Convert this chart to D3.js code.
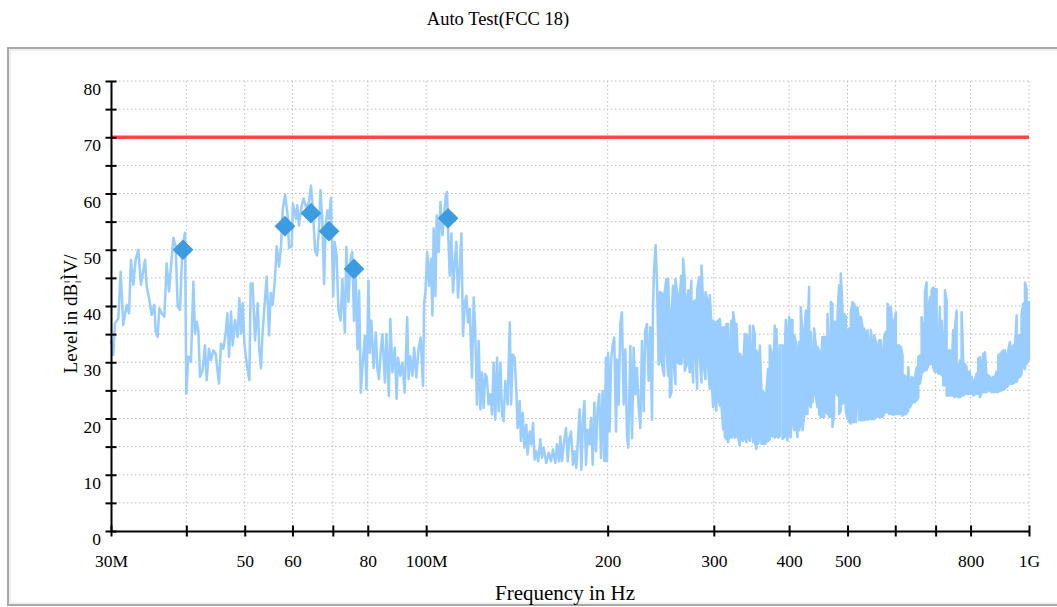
<!DOCTYPE html>
<html lang="en">
<head>
<meta charset="UTF-8">
<title>Auto Test(FCC 18)</title>
<script src="https://d3js.org/d3.v7.min.js"></script>
<style>
 body {
   margin: 0;
   background: #fff;
 }
 svg text {
   font-family: "Liberation Serif", "Times New Roman", serif;
   fill: #000;
 }
 .grid line {
   stroke: #bdbdbd;
   stroke-width: 1;
   stroke-dasharray: 1.5,2.5;
 }
 .trace {
   fill: none;
   stroke: #99ccff;
   stroke-width: 2.5;
   stroke-linejoin: round;
 }
</style>
</head>
<body>
<div id="chart"></div>
<script>
// scan trace, 30 MHz .. ~243 MHz (single readings, MHz / dBuV)
const lowF = [
  30.0, 30.27, 30.46, 30.85, 31.13, 31.44, 31.85, 32.14, 32.38, 32.67, 32.96, 33.30, 33.64, 34.16,
  34.38, 34.73, 35.04, 35.40, 35.58, 35.85, 36.08, 36.40, 36.78, 37.11, 37.44, 38.07, 38.41, 38.70,
  39.05, 39.40, 39.80, 40.00, 40.31, 40.72, 41.09, 41.35, 41.62, 41.88, 42.15, 42.58, 42.96, 43.24,
  43.62, 43.96, 44.35, 44.75, 45.32, 45.67, 46.08, 46.49, 46.79, 47.09, 47.45, 47.75, 48.18, 48.67,
  48.98, 49.30, 49.61, 49.93, 50.38, 50.89, 51.15, 51.54, 52.00, 52.54, 52.87, 53.21, 53.48, 53.90,
  54.38, 54.87, 55.22, 55.64, 56.14, 56.50, 57.00, 57.44, 57.81, 58.33, 58.92, 59.22, 59.83,
  60.1, 60.8, 61.1, 61.5, 62.1, 62.6, 63.3, 63.9, 64.4, 64.9, 65.4, 65.9, 66.4, 66.8, 67.3, 67.7,
  68.1, 68.6, 69.0, 69.5, 70.1, 70.5, 71.0, 71.5, 72.1, 72.6, 73.3, 73.7, 74.3, 74.9, 75.4, 75.9,
  76.4, 76.9, 77.4, 77.9, 78.4, 79.1, 79.6, 80.2, 80.6, 81.1, 81.8, 82.5, 83.0, 83.5, 84.1, 84.6,
  85.4, 85.9, 86.7, 87.2, 87.9, 88.7, 89.3, 89.8, 90.6, 91.3, 92.1, 93.0, 93.5, 94.1, 94.9, 95.5,
  96.3, 97.1, 97.9, 98.8, 99.2, 99.7, 100.4, 101.1, 101.8, 102.4, 102.9, 103.6, 104.1, 104.9, 105.6,
  106.4, 107.1, 107.8, 108.3, 108.7, 109.4, 110.1, 110.8, 111.5, 112.2, 112.9, 113.6, 114.4, 115.1,
  115.9, 116.6, 117.3, 118.1,
  119.1, 119.9, 120.6, 121.4, 122.2, 123.0, 123.8, 124.5, 125.3, 126.1, 126.9, 127.8, 128.6, 129.4,
  130.2, 131.1, 131.9, 132.8, 133.6, 134.4, 135.3, 136.5, 137.6, 138.3, 139.2, 140.2, 141.1, 141.8,
  142.9, 143.6, 144.6, 145.5, 146.6, 147.3, 148.5, 149.4, 150.4, 151.3, 152.3, 153.4, 154.6, 155.6,
  156.6, 158.2, 159.7, 161.1, 162.3, 163.8, 164.8, 166.1, 166.9, 168.0, 169.1, 170.6, 171.7, 172.8,
  173.9, 175.2, 176.3, 177.4, 178.6, 179.7, 180.9, 182.0, 183.0, 184.1, 185.3, 186.5, 187.7, 188.9,
  190.1, 191.3, 192.5, 193.7, 195.0, 196.2, 197.5, 198.7, 199.5, 200.3, 201.5, 202.6, 203.9, 205.1,
  206.5, 207.3, 208.6, 209.9, 211.2, 212.6, 214.0, 215.3, 216.4, 218.1, 219.5, 220.9, 222.3, 223.7,
  225.1, 226.6, 228.0, 229.5, 230.9, 232.4, 233.9, 235.4, 236.9, 237.8, 238.7, 240.2, 241.5, 243.0
];
const lowDb = [
  33.9, 31.3, 36.9, 37.8, 46.1, 36.6, 40.2, 38.7, 48.2, 43.8, 48.2, 50.0, 43.8, 48.2,
  43.5, 41.1, 38.4, 40.2, 35.4, 34.5, 39.6, 38.7, 38.1, 47.6, 42.6, 52.1, 50.6, 39.9,
  39.3, 50.3, 53.0, 24.4, 31.0, 30.1, 44.3, 35.1, 37.2, 35.7, 27.4, 28.6, 33.0, 26.8,
  32.4, 30.4, 32.1, 31.5, 26.2, 33.3, 32.4, 35.1, 38.7, 31.0, 39.0, 33.0, 37.5, 34.5,
  41.4, 35.1, 40.5, 33.3, 29.8, 26.8, 44.0, 44.0, 33.9, 40.5, 32.1, 28.9, 34.5, 39.9,
  45.2, 34.8, 42.3, 40.2, 45.2, 50.6, 47.0, 50.6, 57.1, 59.8, 56.0, 50.3, 50.6,
  58.2, 55.5, 57.9, 54.3, 57.6, 59.1, 57.3, 58.5, 61.4, 56.7, 49.9, 49.0, 53.8, 60.6, 54.3, 43.9,
  54.3, 57.0, 55.5, 59.2, 41.8, 51.4, 49.0, 39.5, 37.4, 44.8, 35.3, 50.5, 40.7, 48.4, 49.6, 37.4,
  45.4, 32.3, 42.7, 24.6, 29.3, 34.7, 25.2, 44.5, 31.7, 37.4, 29.0, 35.3, 28.8, 27.0, 32.3, 35.0,
  26.4, 35.0, 24.0, 37.7, 28.2, 32.6, 23.5, 30.8, 27.6, 29.9, 24.6, 38.0, 27.0, 31.1, 27.6, 32.6,
  27.3, 32.3, 34.4, 25.8, 40.4, 42.4, 49.6, 43.6, 48.4, 38.3, 53.8, 41.8, 56.1, 49.6, 58.5,
  52.6, 56.4, 59.7, 60.3, 53.8, 45.4, 52.9, 42.4, 47.8, 51.4, 41.5, 46.0, 52.9, 34.7,
  40.7, 41.8, 37.1, 39.5,
  27.3, 41.5, 35.6, 22.5, 33.8, 21.6, 28.2, 21.9, 27.9, 27.3, 22.5, 24.3, 20.7, 29.9,
  19.8, 30.8, 21.3, 29.9, 20.7, 19.5, 26.7, 22.5, 37.1, 22.5, 31.4, 30.8, 24.9, 18.3,
  23.1, 16.0, 21.0, 14.8, 18.9, 13.6, 17.7, 15.4, 19.2, 12.7, 14.2, 12.4, 16.3, 13.0,
  14.8, 12.1, 13.9, 12.4, 14.5, 12.1, 15.4, 12.4, 16.8, 12.4, 15.4, 18.3, 12.4, 16.5,
  17.7, 11.8, 14.2, 11.2, 16.5, 21.6, 10.9, 20.1, 23.1, 11.8, 18.0, 15.4, 20.1, 11.8,
  22.8, 14.2, 21.9, 24.3, 13.0, 24.9, 12.4, 30.8, 12.4, 31.7, 17.7, 30.2, 33.2, 34.4,
  17.7, 30.5, 22.5, 36.8, 38.9, 22.5, 32.3, 17.1, 14.8, 32.9, 16.5, 32.6, 24.3, 29.0,
  22.2, 18.3, 33.8, 21.3, 35.6, 36.8, 26.7, 36.2, 19.8, 39.2, 46.0, 50.8, 43.9, 29.6
];

// dense part of the scan, ~244 MHz .. 1 GHz: min / max per frequency bin
const bandF = [
  244.1, 246.3, 248.1, 250.3, 252.0, 253.6, 255.2, 256.8, 259.1, 261.1, 263.5, 265.1, 266.8, 268.5,
  270.2, 272.0, 273.7, 275.4, 277.2, 279.7, 281.5, 283.6, 286.2, 288.0, 290.6, 292.8, 295.4, 297.3,
  299.2, 301.1, 303.0, 305.0, 306.9, 308.9, 310.9, 312.8, 314.8, 316.9, 318.9, 320.9, 323.0, 325.0,
  327.1, 329.2, 331.3, 333.4, 335.5, 337.7, 339.8, 342.0, 344.2, 346.4, 348.6, 350.8, 353.1, 355.3,
  357.6, 359.9, 362.2, 364.5, 366.8, 369.1, 371.5, 373.9, 376.3, 378.7, 381.1, 383.5, 386.0,
  390.0, 392.5, 395.0, 397.5, 400.0, 402.6, 405.2, 407.8, 410.4, 413.0, 415.6, 418.3, 420.9, 423.6,
  426.4, 429.1, 431.8, 434.6, 437.3, 440.1, 443.0, 445.8, 448.6, 451.5, 454.4, 457.3, 460.2, 463.1,
  466.1, 469.1, 472.0, 475.1, 478.1, 481.1, 484.2, 487.3, 490.4, 493.6, 496.7, 499.9, 503.1, 506.3,
  509.5, 512.8, 516.1, 519.3, 522.7, 526.0, 529.4, 532.8, 536.2, 539.6, 543.0, 546.5, 550.0, 553.5,
  557.1, 560.6, 564.2, 567.8, 571.5, 575.1, 578.8, 582.5, 586.2, 590.0, 593.8, 597.6, 601.4, 605.2,
  609.1, 613.0, 616.9, 620.9, 624.8,
  630.6, 634.6, 638.7, 642.7, 646.8, 651.0, 655.1, 659.3, 663.5, 667.7, 672.0, 676.3, 680.6, 685.0,
  689.3, 693.7, 698.2, 702.7, 707.1, 711.6, 716.2, 720.7, 725.3, 730.0, 734.6, 739.3, 744.1, 748.8,
  753.6, 758.4, 763.3, 768.2, 773.0, 778.0, 782.9, 787.9, 793.0, 798.1, 803.1, 808.3, 813.5, 818.6,
  823.8, 829.2, 834.4, 839.7, 845.1, 850.4, 855.9, 861.4, 866.9, 872.4, 878.0, 883.5, 889.3, 895.0,
  900.6, 906.4, 912.2, 918.0, 923.9, 929.8, 935.7, 941.7, 947.7, 953.8, 959.8, 966.0, 972.1, 978.4,
  984.6, 990.9, 997.2, 1000
];
const bandLo = [
  30.3, 29.4, 27.6, 32.4, 27.6, 23.8, 24.7, 30.9, 26.1, 30.0, 29.7, 29.7, 32.4, 28.5,
  29.4, 31.2, 28.2, 32.4, 26.4, 31.2, 25.3, 32.4, 26.4, 30.0, 27.0, 30.6, 25.3, 27.6,
  22.0, 23.8, 21.4, 23.8, 22.3, 22.3, 18.1, 16.9, 16.3, 15.8, 17.5, 16.6, 16.9, 16.6,
  16.9, 16.6, 15.2, 16.3, 16.0, 16.9, 15.8, 16.9, 16.0, 18.1, 15.8, 16.0, 14.6, 15.5,
  16.9, 15.5, 15.5, 15.5, 15.8, 16.0, 16.3, 16.9, 16.9, 16.6, 16.9, 16.6, 16.9,
  16.4, 16.7, 17.3, 16.1, 17.0, 16.7, 19.7, 17.9, 19.1, 16.7, 17.9, 19.7, 17.9, 20.3,
  20.8, 20.8, 22.6, 22.0, 22.9, 25.6, 23.8, 22.0, 20.8, 20.3, 20.3, 20.3, 21.4, 20.8,
  20.3, 20.3, 18.5, 20.8, 25.0, 24.1, 20.8, 21.4, 22.6, 22.9, 21.4, 19.9, 19.4, 19.1,
  19.4, 19.4, 19.4, 25.0, 19.7, 19.7, 19.7, 19.7, 19.9, 19.8, 19.9, 19.9, 19.9, 19.9,
  20.3, 20.3, 20.3, 20.3, 20.3, 20.8, 21.1, 21.1, 20.8, 20.8, 20.7, 20.7, 20.8, 20.8,
  20.8, 20.8, 20.5, 20.8, 20.8,
  21.4, 22.0, 22.6, 22.9, 22.9, 23.2, 23.8, 26.2, 28.0, 28.3, 28.6, 28.6, 29.4, 29.7,
  29.7, 29.1, 28.3, 28.6, 28.0, 28.0, 27.7, 25.9, 25.9, 24.1, 24.1, 24.1, 24.1, 24.1,
  23.8, 24.1, 23.8, 23.8, 24.1, 24.1, 24.4, 24.4, 24.4, 24.4, 24.4, 24.1, 24.4, 24.4,
  24.4, 23.8, 24.7, 24.7, 24.7, 24.7, 25.0, 25.0, 24.7, 24.7, 24.7, 24.7, 24.7, 25.0,
  25.0, 25.3, 25.3, 25.6, 25.9, 26.2, 26.2, 26.2, 26.5, 26.5, 27.4, 27.4, 28.0, 29.1,
  28.8, 29.7, 30.3, 30.3
];
const bandHi = [
  42.5, 42.2, 41.6, 44.8, 44.8, 34.7, 38.6, 43.6, 44.8, 41.9, 42.2, 45.4, 48.4, 44.8,
  40.1, 42.8, 40.1, 44.5, 40.7, 41.0, 42.8, 45.1, 47.2, 40.7, 42.5, 41.0, 41.9, 36.8,
  37.4, 37.1, 37.1, 37.4, 37.7, 34.7, 36.2, 36.2, 36.8, 36.8, 30.0, 37.4, 38.9, 36.8,
  36.8, 29.4, 31.5, 30.9, 29.1, 35.0, 35.0, 33.9, 36.5, 29.4, 36.5, 35.0, 32.1, 31.5,
  33.0, 25.0, 24.7, 24.4, 24.7, 28.8, 33.0, 31.8, 26.4, 36.5, 35.9, 26.4, 33.0,
  33.0, 28.6, 37.5, 33.9, 38.1, 37.5, 37.5, 34.8, 33.6, 31.8, 33.6, 39.8, 34.5, 34.5,
  39.2, 35.4, 43.4, 35.4, 29.2, 36.0, 33.0, 32.7, 32.1, 29.5, 34.5, 34.5, 34.5, 38.6,
  30.6, 40.7, 40.4, 37.2, 37.2, 38.1, 43.7, 45.8, 39.8, 38.6, 38.1, 35.7, 36.0, 38.9,
  40.7, 40.4, 38.6, 39.8, 36.6, 38.1, 36.3, 36.0, 34.2, 35.7, 32.1, 35.7, 32.1, 34.8,
  33.6, 31.8, 33.9, 33.9, 30.6, 34.5, 35.4, 40.4, 39.5, 39.8, 36.0, 36.9, 38.9, 33.0,
  33.0, 32.7, 31.2, 27.7, 27.4,
  29.1, 24.4, 27.4, 27.1, 27.1, 29.1, 30.9, 31.2, 38.0, 35.4, 42.5, 44.2, 39.2, 41.6,
  42.8, 43.3, 43.0, 43.0, 31.5, 39.8, 37.4, 32.7, 42.8, 41.0, 32.1, 32.1, 28.6, 35.7,
  35.9, 39.2, 29.1, 30.3, 38.9, 30.0, 29.7, 29.1, 28.3, 28.3, 27.4, 26.2, 26.8, 28.0,
  30.6, 30.9, 28.6, 31.5, 31.8, 27.4, 27.7, 27.4, 27.1, 27.4, 27.4, 28.3, 31.2, 31.5,
  31.8, 32.1, 32.1, 30.6, 32.1, 33.6, 32.7, 33.0, 32.7, 38.3, 34.8, 34.8, 38.6, 40.4,
  44.2, 43.0, 38.3, 40.7
];

// peak markers
const markerF = [39.5, 58.3, 64.4, 69.0, 75.9, 108.7];
const markerDb = [50.0, 54.2, 56.5, 53.3, 46.6, 55.6];

// FCC limit line
const limitDb = 70;

const xTicks = [30, 40, 50, 60, 70, 80, 100, 200, 300, 400, 500, 600, 700, 800, 1000];
const xTickLabels = {30: '30M', 50: '50', 60: '60', 80: '80', 100: '100M', 200: '200',
  300: '300', 400: '400', 500: '500', 800: '800', 1000: '1G'};
const yTicks = d3.range(0, 81, 5);

const width = 1057;
const height = 607;
const plotLeft = 111, plotRight = 1029, plotTop = 81, plotBottom = 531;

const svg = d3.select('#chart').append('svg')
  .attr('width', width)
  .attr('height', height);

// outer frame
svg.append('rect')
  .attr('x', 8).attr('y', 48)
  .attr('width', 1100).attr('height', 557)
  .attr('fill', '#fff')
  .attr('stroke', '#a8a8a8')
  .attr('stroke-width', 2);
svg.append('rect')
  .attr('x', 10).attr('y', 50)
  .attr('width', 1100).attr('height', 553)
  .attr('fill', 'none')
  .attr('stroke', '#ececec')
  .attr('stroke-width', 1.5);

svg.append('text')
  .attr('x', 498).attr('y', 25)
  .attr('text-anchor', 'middle')
  .style('font-size', '18.5px')
  .text('Auto Test(FCC 18)');

const x = d3.scaleLog().domain([30, 1000]).range([plotLeft, plotRight]);
const y = d3.scaleLinear().domain([0, 80]).range([plotBottom, plotTop]);

// grid
const grid = svg.append('g').attr('class', 'grid');
grid.selectAll('.h')
  .data(yTicks.filter(d => d > 0))
  .enter()
  .append('line')
  .attr('x1', plotLeft).attr('x2', plotRight)
  .attr('y1', d => y(d)).attr('y2', d => y(d));
grid.selectAll('.v')
  .data(xTicks.filter(d => d > 30))
  .enter()
  .append('line')
  .attr('x1', d => x(d)).attr('x2', d => x(d))
  .attr('y1', plotTop).attr('y2', plotBottom);

// limit
svg.append('line')
  .attr('x1', x(30)).attr('x2', x(1000))
  .attr('y1', y(limitDb)).attr('y2', y(limitDb))
  .attr('stroke', '#ff4646')
  .attr('stroke-width', 3.5);

// trace: single readings, then min/max zigzag for the dense bins
const trace = lowF.map((f, i) => [f, lowDb[i]]);
bandF.forEach((f, i) => {
  if (i % 2 === 0) trace.push([f, bandLo[i]], [f, bandHi[i]]);
  else trace.push([f, bandHi[i]], [f, bandLo[i]]);
});

const line = d3.line()
  .x(d => x(d[0]))
  .y(d => y(d[1]));

svg.append('path')
  .datum(trace)
  .attr('class', 'trace')
  .attr('d', line);

// markers
const diamond = d3.symbol().type(d3.symbolSquare).size(215);
svg.selectAll('.marker')
  .data(markerF.map((f, i) => [f, markerDb[i]]))
  .enter()
  .append('path')
  .attr('class', 'marker')
  .attr('d', diamond)
  .attr('fill', '#3d9be0')
  .attr('transform', d => `translate(${x(d[0])},${y(d[1])}) rotate(45)`);

// axes
const xAxis = svg.append('g')
  .attr('transform', `translate(0,${plotBottom})`)
  .call(d3.axisBottom(x).tickValues(xTicks).tickSize(5.5).tickSizeOuter(0)
    .tickFormat(d => xTickLabels[d] || ''));
xAxis.select('.domain').attr('stroke-width', 2);
xAxis.selectAll('.tick line').attr('y1', -5.5).attr('stroke-width', 2);
xAxis.selectAll('.tick text')
  .attr('y', 36).attr('dy', 0)
  .style('font-size', '17.5px')
  .style('font-family', '"Liberation Serif", "Times New Roman", serif');

const yAxis = svg.append('g')
  .attr('transform', `translate(${plotLeft},0)`)
  .call(d3.axisLeft(y).tickValues(yTicks).tickSize(5.5).tickSizeOuter(0)
    .tickFormat(d => d % 10 === 0 ? d : ''));
yAxis.select('.domain').attr('stroke-width', 2);
yAxis.selectAll('.tick line').attr('x1', 5.5).attr('stroke-width', 2);
yAxis.selectAll('.tick text')
  .attr('x', -10).attr('y', 13.5).attr('dy', 0)
  .style('font-size', '17.5px')
  .style('font-family', '"Liberation Serif", "Times New Roman", serif');

svg.append('text')
  .attr('transform', 'translate(77,314) rotate(-90)')
  .attr('text-anchor', 'middle')
  .style('font-size', '19px')
  .text('Level in dB¦ÌV/');

svg.append('text')
  .attr('x', 565).attr('y', 600)
  .attr('text-anchor', 'middle')
  .style('font-size', '21px')
  .text('Frequency in Hz');
</script>
</body>
</html>
